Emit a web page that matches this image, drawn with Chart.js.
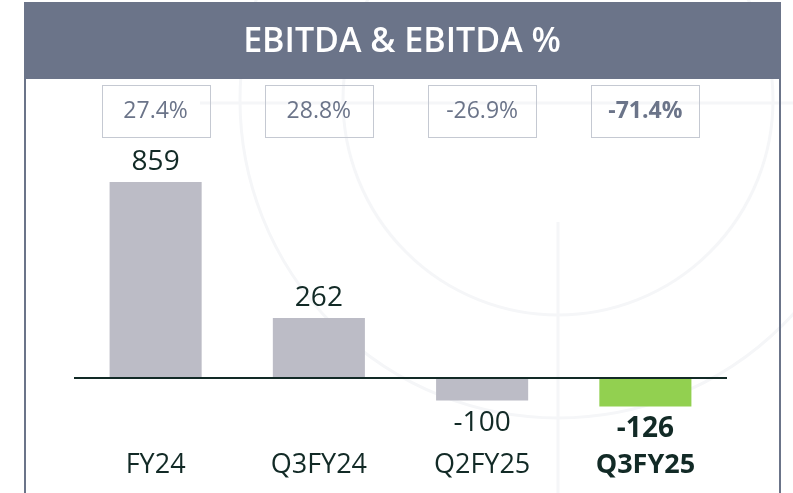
<!DOCTYPE html>
<html>
<head>
<meta charset="utf-8">
<script src="https://cdn.jsdelivr.net/npm/chart.js@4.4.1/dist/chart.umd.min.js"></script>
<style>
  html, body { margin: 0; padding: 0; background: #fff; }
  #wrap { width: 793px; height: 493px; position: relative; }
</style>
</head>
<body>
<div id="wrap"><canvas id="ebitdaChart" width="793" height="493"></canvas></div>
<script>
const categories = ['FY24', 'Q3FY24', 'Q2FY25', 'Q3FY25'];
const ebitda = [859, 262, -100, -126];
const ebitdaPct = ['27.4%', '28.8%', '-26.9%', '-71.4%'];
const barColors = ['#bcbcc6', '#bcbcc6', '#bcbcc6', '#92d050'];
const highlight = [false, false, false, true];

const slate = '#6b7489';
const dark = '#122a26';
const FONT = '"Open Sans", sans-serif';

// frame, header and faint background pattern
const backdrop = {
    id: 'backdrop',
    beforeDraw(chart) {
        const c = chart.ctx;
        c.save();
        c.fillStyle = '#fff';
        c.fillRect(0, 0, chart.width, chart.height);

        c.strokeStyle = '#f5f6f8';
        c.lineWidth = 3;
        c.beginPath(); c.arc(558, 100, 215, 0, Math.PI * 2); c.stroke();
        c.beginPath(); c.arc(558, 100, 318, 0, Math.PI * 2); c.stroke();
        c.beginPath(); c.moveTo(558, 222); c.lineTo(558, 493); c.stroke();
        c.beginPath(); c.moveTo(200, 103); c.lineTo(793, 103); c.stroke();

        c.fillStyle = slate;
        c.fillRect(24, 2, 757, 77);
        c.fillRect(24, 79, 2, 414);
        c.fillRect(779, 79, 2, 414);

        c.fillStyle = '#fff';
        c.font = '600 34px ' + FONT;
        c.textAlign = 'center';
        c.textBaseline = 'middle';
        c.fillText('EBITDA & EBITDA %', 402, 42);
        c.restore();
    }
};

const labels = {
    id: 'labels',
    afterDatasetsDraw(chart) {
        const c = chart.ctx;
        const x = chart.scales.x;
        const y = chart.scales.y;
        const meta = chart.getDatasetMeta(0);
        c.save();

        // zero line
        const y0 = Math.round(y.getPixelForValue(0));
        c.fillStyle = dark;
        c.fillRect(x.left, y0 - 1, x.right - x.left, 2);

        c.textAlign = 'center';
        categories.forEach((cat, i) => {
            const cx = x.getPixelForValue(i);
            const bar = meta.data[i];
            const v = ebitda[i];
            const bold = highlight[i];

            // percent box
            c.strokeStyle = '#c5c9d2';
            c.lineWidth = 1;
            c.strokeRect(Math.round(cx - 54) + 0.5, 85.5, 108, 52);
            c.fillStyle = slate;
            c.font = (bold ? '700 ' : '400 ') + '23px ' + FONT;
            c.textBaseline = 'middle';
            c.fillText(ebitdaPct[i], cx, 111);

            // value label
            c.fillStyle = dark;
            c.font = (bold ? '700 ' : '400 ') + '28px ' + FONT;
            if (v >= 0) {
                c.textBaseline = 'bottom';
                c.fillText(String(v), cx, bar.y - 6);
            } else {
                c.textBaseline = 'top';
                c.fillText(String(v), cx, bar.y + 9);
            }

            // category label
            c.font = (bold ? '700 ' : '400 ') + '27px ' + FONT;
            c.textBaseline = 'middle';
            c.fillText(cat, cx, 465);
        });
        c.restore();
    }
};

new Chart(document.getElementById('ebitdaChart').getContext('2d'), {
    type: 'bar',
    data: {
        labels: categories,
        datasets: [{
            data: ebitda,
            backgroundColor: barColors,
            borderWidth: 0,
            categoryPercentage: 1,
            barPercentage: 0.564
        }]
    },
    options: {
        responsive: false,
        animation: false,
        events: [],
        layout: { padding: { left: 74, right: 66, top: 150, bottom: 47 } },
        scales: {
            x: { display: false },
            y: { display: false, min: -300, max: 1000 }
        },
        plugins: {
            legend: { display: false },
            tooltip: { enabled: false }
        }
    },
    plugins: [backdrop, labels]
});
</script>
</body>
</html>
